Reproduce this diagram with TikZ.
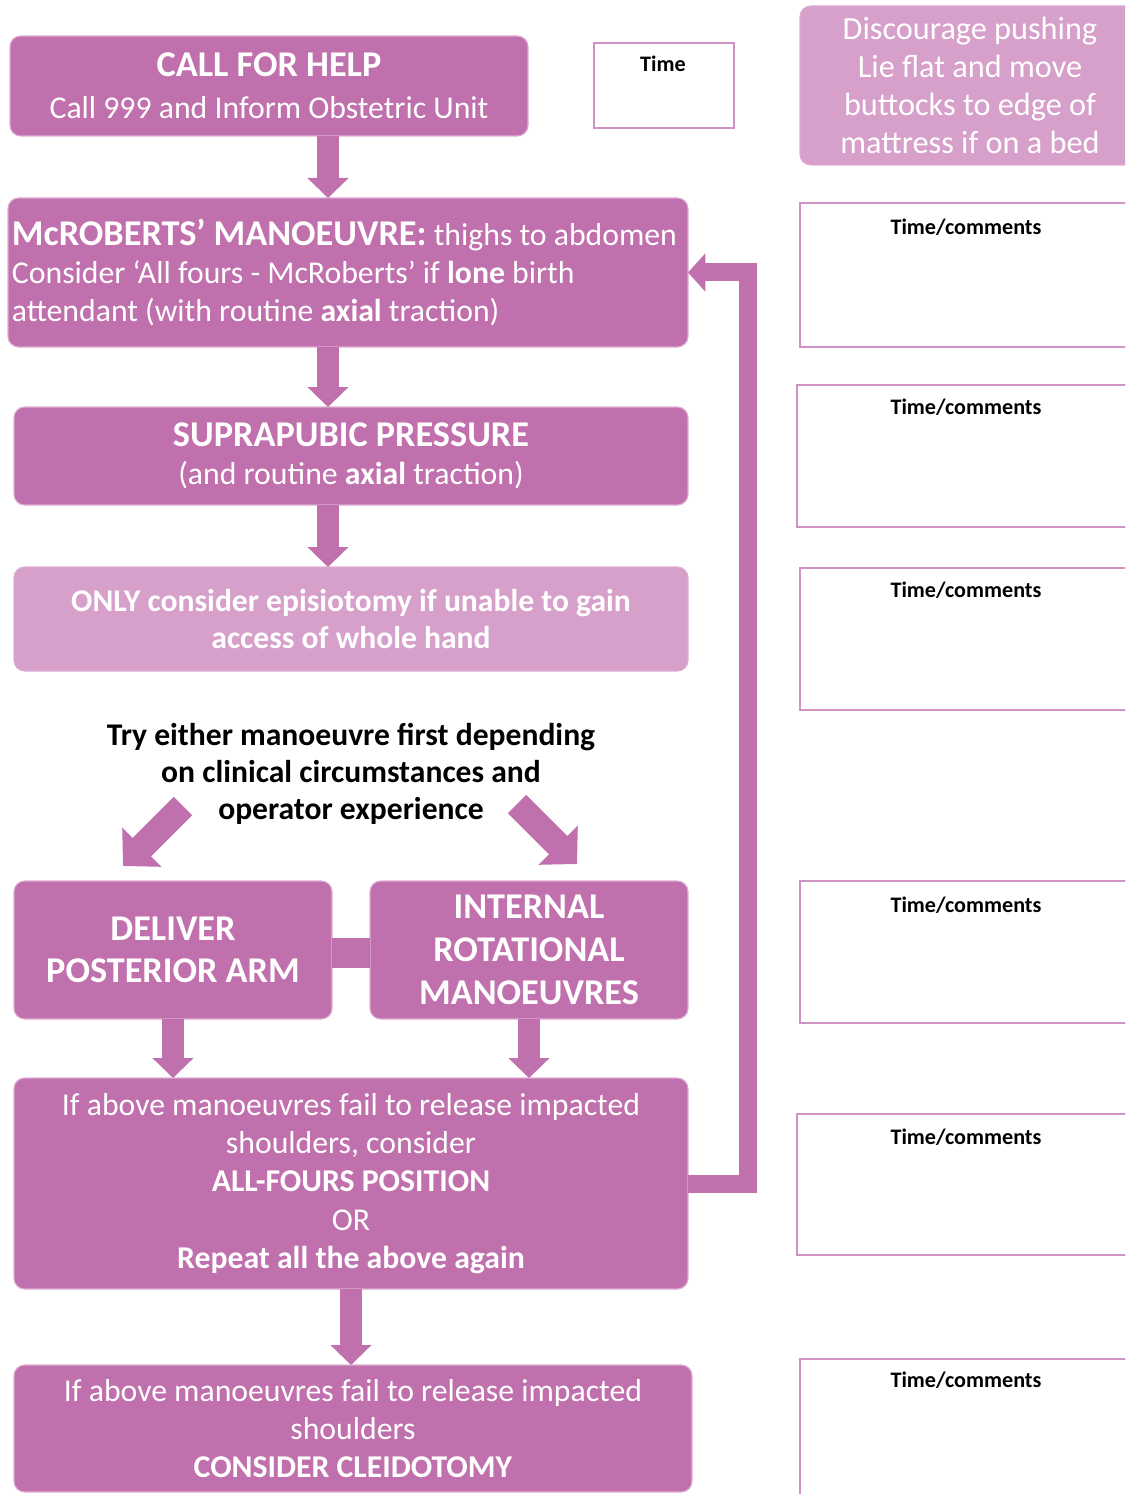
\documentclass[tikz,border=0pt]{standalone}
\usepackage{fontspec}
\setmainfont{Carlito}
\usepackage{tikz}
\usetikzlibrary{positioning,arrows.meta,calc}
\definecolor{rcogpink}{RGB}{192,112,172}
\definecolor{rcoglight}{RGB}{215,160,202}
\definecolor{rcogedge}{RGB}{222,172,212}
\definecolor{noteedge}{RGB}{208,146,194}
\newcommand{\bodyfont}{\fontsize{23.8}{28.7}\selectfont}
\newcommand{\headfont}{\fontsize{27.2}{32}\selectfont}

\begin{document}
\begin{tikzpicture}[x=0.75pt,y=-0.75pt,
  box/.style={draw=rcogedge,line width=0.8pt,fill=rcogpink,rounded corners=8pt,
    text=white,align=flush center,outer sep=0pt,inner sep=3pt,font=\bodyfont},
  lightbox/.style={box,fill=rcoglight},
  blockarrow/.style={draw=rcogpink,line width=16.5pt,-{Triangle[width=30pt,length=15pt]}},
  looparrow/.style={draw=rcogpink,line width=13.5pt,-{Triangle[width=28pt,length=13pt]}},
  diagarrow/.style={draw=rcogpink,line width=19.5pt,-{Triangle[width=40.5pt,length=20pt]}},
  linkbar/.style={draw=rcogpink,line width=22.5pt},
  notebox/.style={draw=noteedge,line width=1.5pt,fill=white},
  notelabel/.style={font=\bfseries\fontsize{16.6}{19}\selectfont,inner sep=0pt}]
\useasboundingbox (0,0) rectangle (1125,1494);
\clip (0,0) rectangle (1125,1494);

% main column
\node[box,minimum width=388.5pt,minimum height=75pt] (help) at (269,86)
  {{\headfont\bfseries CALL FOR HELP}\\[2.5pt] Call 999 and Inform Obstetric Unit};
\node[box,minimum width=510pt,minimum height=111.75pt,text width=504pt,align=flush left] (mcr) at (348,272.5)
  {\mbox{{\headfont\bfseries McROBERTS’ MANOEUVRE:} thighs to abdomen}\\
   \mbox{Consider ‘All fours - McRoberts’ if \textbf{lone} birth}\\
   \mbox{attendant (with routine \textbf{axial} traction)}};
\node[box,minimum width=505.5pt,minimum height=73.5pt] (supra) at (351,456)
  {{\headfont\bfseries SUPRAPUBIC PRESSURE}\\ (and routine \textbf{axial} traction)};
\node[lightbox,minimum width=505.5pt,minimum height=78pt,font=\fontsize{23.7}{28}\selectfont\bfseries] (only) at (351,619)
  {ONLY consider episiotomy if unable to gain\\ access of whole hand};
\node[font=\bfseries\fontsize{23.7}{27.8}\selectfont,align=flush center,inner sep=0pt] (try) at (351,774)
  {Try either manoeuvre first depending\\ on clinical circumstances and\\ operator experience};
\node[box,minimum width=238.5pt,minimum height=103.5pt,font=\headfont\bfseries] (deliver) at (173,950)
  {DELIVER\\ POSTERIOR ARM};
\node[box,minimum width=238.5pt,minimum height=103.5pt,font=\headfont\bfseries] (internal) at (529,950)
  {INTERNAL\\ ROTATIONAL\\ MANOEUVRES};
\node[box,minimum width=505.5pt,minimum height=158.25pt] (again) at (351,1183.5)
  {If above manoeuvres fail to release impacted\\ shoulders, consider\\ \textbf{ALL-FOURS POSITION}\\ OR\\ \textbf{Repeat all the above again}};
\node[box,minimum width=508.5pt,minimum height=95.25pt] (cleido) at (353,1428.5)
  {If above manoeuvres fail to release impacted\\ shoulders\\ \textbf{CONSIDER CLEIDOTOMY}};

% right column
\node[lightbox,minimum width=255pt,minimum height=119.25pt,font=\fontsize{24.2}{28.5}\selectfont] (discourage) at (970,85.5)
  {Discourage pushing\\ Lie flat and move\\ buttocks to edge of\\ mattress if on a bed};
\draw[notebox] (594,43) rectangle (734,128);
\node[notelabel] (timelabel) at (663,64) {Time};
\foreach \nx/\nt/\nb/\nl [count=\i] in {800/203/347/227,797/385/527/407,800/568/710/590,
    800/881/1023/905,797/1114/1255/1137,800/1359/1510/1380}{
  \draw[notebox] (\nx,\nt) rectangle (1140,\nb);
  \node[notelabel] (note\i) at (966,\nl) {Time/comments};
}

% connectors
\coordinate (colA) at (328,0);
\coordinate (loop) at (747.5,700);
\coordinate (diagLs) at (183,806);
\coordinate (diagLe) at (123,866);
\coordinate (diagRs) at (517,804);
\coordinate (diagRe) at (577,864);
\draw[blockarrow] (help.south -| colA) -- (mcr.north -| colA);
\draw[blockarrow] (mcr.south -| colA) -- (supra.north -| colA);
\draw[blockarrow] (supra.south -| colA) -- (only.north -| colA);
\draw[diagarrow] (diagLs) -- (diagLe);
\draw[diagarrow] (diagRs) -- (diagRe);
\draw[linkbar] ([yshift=-2pt]deliver.east) -- ([yshift=-2pt]internal.west);
\draw[blockarrow] (deliver.south) -- (deliver.south |- again.north);
\draw[blockarrow] (internal.south) -- (internal.south |- again.north);
\draw[blockarrow] (again.south) -- (again.south |- cleido.north);
\draw[looparrow] (again.east) -| (loop) |- (mcr.east);
\end{tikzpicture}
\end{document}
